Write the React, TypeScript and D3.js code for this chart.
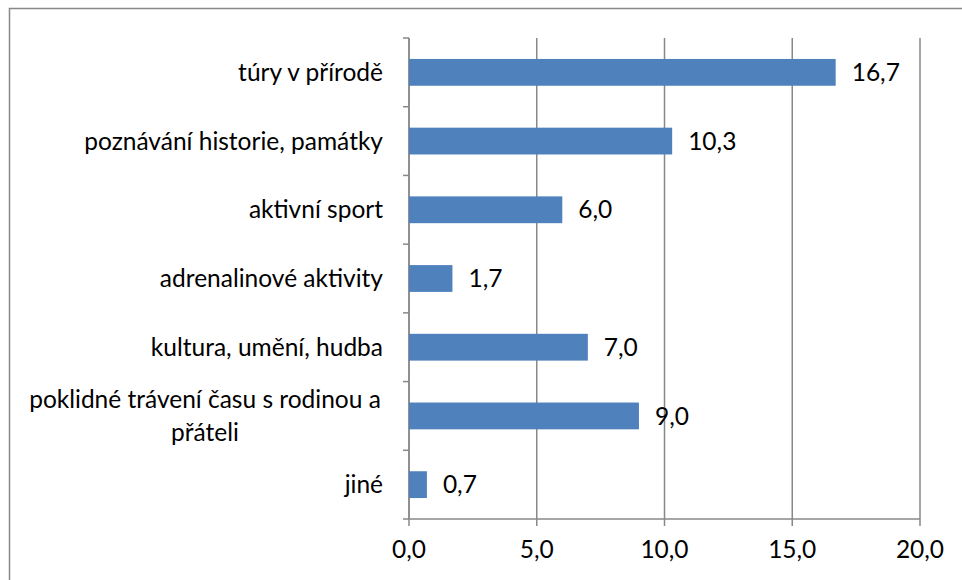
import React from 'react';
import { scaleLinear, scaleBand } from 'd3';

const categories = [
    'túry v přírodě',
    'poznávání historie, památky',
    'aktivní sport',
    'adrenalinové aktivity',
    'kultura, umění, hudba',
    'poklidné trávení času s rodinou a přáteli',
    'jiné'
];
const values = [16.7, 10.3, 6.0, 1.7, 7.0, 9.0, 0.7];
const ticks = [0, 5, 10, 15, 20];
// manual wrapping, like the original
const labelLines: Record<string, string[]> = {
    'poklidné trávení času s rodinou a přáteli': ['poklidné trávení času s rodinou a', 'přáteli']
};

const fmt = (v: number) => v.toFixed(1).replace('.', ',');

const App: React.FC = () => {
    const width = 962;
    const height = 580;
    const plot = { left: 409, right: 920, top: 38, bottom: 519 };
    const font = 'Lato, "Open Sans", sans-serif';
    const fs = 24.5;

    const x = scaleLinear().domain([0, 20]).range([plot.left, plot.right]);
    const y = scaleBand<string>().domain(categories).range([plot.top, plot.bottom]).paddingInner(0.61).paddingOuter(0.305);
    const step = y.step();

    return (
        <svg width={width} height={height} style={{ position: 'fixed', left: 0, top: 0 }} fontFamily={font}>
            <rect width={width} height={height} fill="#fff" />
            <rect x={9.5} y={8.5} width={1000} height={1000} fill="none" stroke="#888" strokeWidth={1.5} />

            {/* gridlines */}
            {ticks.map(t => (
                <line key={t} x1={x(t)} x2={x(t)} y1={plot.top} y2={plot.bottom + 7} stroke="#888" strokeWidth={1.5} />
            ))}
            {/* category axis */}
            <line x1={plot.left} x2={plot.left} y1={plot.top} y2={plot.bottom} stroke="#888" strokeWidth={1.5} />
            {categories.map((c, i) => (
                <line key={c} x1={plot.left - 6} x2={plot.left} y1={plot.top + i * step} y2={plot.top + i * step} stroke="#888" strokeWidth={1.5} />
            ))}
            <line x1={plot.left - 6} x2={plot.left} y1={plot.top + categories.length * step} y2={plot.top + categories.length * step} stroke="#888" strokeWidth={1.5} />
            <line x1={plot.left} x2={plot.right} y1={plot.bottom} y2={plot.bottom} stroke="#888" strokeWidth={1.5} />

            {/* bars */}
            {categories.map((c, i) => (
                <rect key={c} x={x(0)} y={y(c)} width={x(values[i]) - x(0)} height={y.bandwidth()} fill="#4F81BD" />
            ))}

            {/* value labels */}
            {categories.map((c, i) => (
                <text key={c} x={x(values[i]) + 16} y={(y(c) ?? 0) + y.bandwidth() / 2} dy="0.35em" fontSize={fs} fill="#000">
                    {fmt(values[i])}
                </text>
            ))}

            {/* category labels */}
            {categories.map((c, i) => {
                const lines = labelLines[c];
                const cy = plot.top + (i + 0.5) * step;
                if (lines) {
                    return (
                        <text key={c} x={205} textAnchor="middle" fontSize={fs} fill="#000">
                            {lines.map((l, j) => (
                                <tspan key={j} x={205} y={cy + (j - (lines.length - 1) / 2) * 33} dy="0.35em">{l}</tspan>
                            ))}
                        </text>
                    );
                }
                return (
                    <text key={c} x={383} y={cy} dy="0.35em" textAnchor="end" fontSize={fs} fill="#000">{c}</text>
                );
            })}

            {/* x tick labels */}
            {ticks.map(t => (
                <text key={t} x={x(t)} y={549} dy="0.35em" textAnchor="middle" fontSize={fs} fill="#000">{fmt(t)}</text>
            ))}
        </svg>
    );
};

export default App;
